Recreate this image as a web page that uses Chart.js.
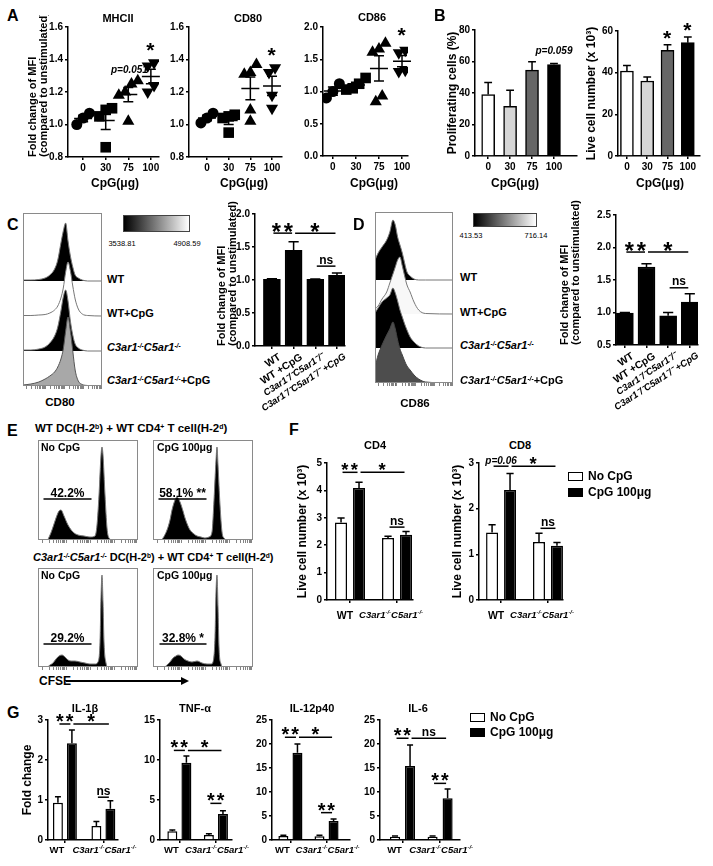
<!DOCTYPE html>
<html>
<head>
<meta charset="utf-8">
<title>CpG / C3aR-C5aR DC figure</title>
<script src="https://cdn.jsdelivr.net/npm/chart.js"></script>
<style>
  body { margin: 0; width: 713px; height: 866px; position: relative; overflow: hidden; background: #fff; }
  canvas { position: absolute; }
  .t { position: absolute; white-space: nowrap; line-height: 1; color: #000; }
  sup { font-size: 0.6em; position: relative; top: -0.45em; vertical-align: baseline; line-height: 0; }
</style>
</head>
<body>
<script>
// ---------- values ----------
const doses = ['0', '30', '75', '100'];

// A: fold change of MFI per mouse, one list per CpG dose
const mhciiFold = [[1.07, 1.04, 1.00], [1.10, 1.09, 1.05, 0.86], [1.27, 1.25, 1.20, 1.18, 1.02], [1.38, 1.36, 1.24, 1.20]];
const cd80Fold = [[1.07, 1.04, 1.01], [1.06, 1.05, 1.04, 0.95], [1.37, 1.32, 1.31, 1.09, 1.02], [1.35, 1.32, 1.18, 1.10]];
const cd86Fold = [[1.12, 1.00, 0.90], [1.21, 1.12, 1.05, 1.03], [1.75, 1.66, 1.61, 0.93, 0.84], [1.64, 1.60, 1.33, 1.31]];

// B
const prolifPct = [39.0, 31.6, 54.5, 58.1];
const prolifSem = [7.7, 10.2, 5.3, 0.7];
const liveCells = [40.8, 36.0, 50.7, 54.4];
const liveSem = [2.7, 1.9, 2.7, 2.7];

// C / D bar charts
const ko = 'C3ar1⁻/⁻C5ar1⁻/⁻';
const cdGroups = ['WT', 'WT +CpG', ko, ko + ' +CpG'];
const cd80Mfi = [1.01, 1.45, 1.01, 1.07];
const cd80Sem = [0.01, 0.13, 0.005, 0.035];
const cd86Mfi = [0.99, 1.70, 0.95, 1.16];
const cd86Sem = [0.01, 0.05, 0.05, 0.13];

// C / D histograms: channel (0-100) and counts
const cd80Chan = [0, 10, 20, 28, 34, 40, 44, 48, 51, 54, 57, 60, 63, 66, 70, 75, 82, 100];
const cd80WT = [1, 1, 1.5, 3, 6, 12, 21, 38, 50, 58, 40, 25, 14, 6, 3, 1, 0, 0];
const cd80WTCpG = [0.5, 0.5, 1, 1.5, 3, 6, 10, 18, 28, 44, 54, 45, 30, 17, 7, 2, 0.5, 0];
const cd80KO = [1, 1, 2, 4, 8, 15, 24, 40, 54, 61, 50, 30, 16, 7, 3, 1, 0, 0];
const cd80KOCpG = [1, 2, 4, 7, 10, 14, 19, 27, 37, 55, 69, 55, 35, 16, 5, 1.5, 0.5, 0];

const cd86Chan = [0, 4, 9, 15, 19, 23, 26, 29, 32, 35, 38, 41, 45, 50, 56, 65, 100];
const cd86WT = [20, 27, 33, 40, 48, 60, 55, 43, 35, 27, 17, 8, 4, 1, 0, 0, 0];
const cd86WTCpG = [5, 8, 15, 22, 31, 40, 47, 54, 57, 48, 38, 29, 22, 12, 4, 0.5, 0];
const cd86KO = [35, 40, 46, 50, 53, 60, 55, 47, 38, 31, 24, 18, 11, 6, 2, 0, 0];
const cd86KOCpG = [16, 28, 38, 48, 54, 61, 54, 43, 34, 28, 22, 17, 13, 8, 4, 1, 0];

// E: CFSE histograms
const cfseWtNoX = [0, 9, 12, 15, 18, 21, 23, 26, 30, 35, 40, 46, 52, 57, 59, 61, 63, 64, 65, 67, 69, 71, 75, 100];
const cfseWtNoN = [0, 0, 5, 13, 22, 29, 30, 24, 15, 8, 5, 4, 3, 4, 15, 45, 85, 93, 85, 45, 12, 2, 0, 0];
const cfseWtCpgX = [0, 8, 10, 14, 17, 19, 22, 24, 27, 30, 32, 35, 37, 41, 44, 48, 52, 56, 59, 61, 63, 64, 65, 67, 69, 71, 75, 100];
const cfseWtCpgN = [0, 0, 2, 10, 20, 30, 40, 43, 38, 29, 22, 14, 10, 6, 4, 3, 2, 3, 8, 40, 80, 93, 75, 35, 8, 2, 0, 0];
const cfseKoNoX = [0, 9, 12, 15, 18, 21, 24, 27, 30, 33, 37, 42, 47, 52, 57, 60, 62, 63, 64, 65, 66, 68, 70, 100];
const cfseKoNoN = [0, 0, 2, 4, 8, 11, 12, 10, 7, 6, 6, 5, 4, 3, 3, 5, 25, 70, 92, 65, 25, 4, 0, 0];
const cfseKoCpgX = [0, 11, 14, 17, 20, 23, 25, 28, 31, 35, 39, 44, 49, 54, 58, 60, 62, 63, 64, 65, 66, 68, 70, 100];
const cfseKoCpgN = [0, 0, 2, 5, 9, 11, 12, 11, 8, 6, 5, 6, 4, 3, 3, 5, 30, 75, 92, 60, 20, 3, 0, 0];

// F / G: [WT, KO] per condition
const strains = ['WT', ko];
const cd4No = [2.83, 2.26], cd4NoSem = [0.16, 0.07], cd4Cpg = [4.09, 2.38], cd4CpgSem = [0.21, 0.12];
const cd8No = [1.48, 1.27], cd8NoSem = [0.17, 0.19], cd8Cpg = [2.41, 1.19], cd8CpgSem = [0.36, 0.07];
const il1bNo = [0.93, 0.35], il1bNoSem = [0.15, 0.11], il1bCpg = [2.42, 0.78], il1bCpgSem = [0.33, 0.20];
const tnfNo = [1.08, 0.63], tnfNoSem = [0.17, 0.16], tnfCpg = [9.67, 3.25], tnfCpgSem = [0.83, 0.42];
const il12No = [0.83, 0.80], il12NoSem = [0.17, 0.17], il12Cpg = [18.2, 3.96], il12CpgSem = [1.8, 0.41];
const il6No = [0.69, 0.70], il6NoSem = [0.14, 0.14], il6Cpg = [15.4, 8.7], il6CpgSem = [4.4, 1.9];

// ---------- setup ----------
const FF = '"Liberation Sans", Arial, Helvetica, sans-serif';
Chart.defaults.font.family = FF;
Chart.defaults.color = '#000';
Chart.defaults.animation = false;
Chart.defaults.events = [];
Chart.defaults.plugins.legend.display = false;
Chart.defaults.plugins.tooltip.enabled = false;

function put(html, x, y, font, align) {
  const d = document.createElement('div');
  d.className = 't';
  d.innerHTML = html;
  const tx = align === 'c' ? '-50%' : align === 'r' ? '-100%' : '0';
  d.style.cssText = `left:${x}px;top:${y}px;transform:translate(${tx},-50%);font:${font} ${FF};`;
  document.body.appendChild(d);
}
function box(x, y, w, h, css) {
  const d = document.createElement('div');
  d.style.cssText = `position:absolute;left:${x}px;top:${y}px;width:${w}px;height:${h}px;box-sizing:border-box;${css}`;
  document.body.appendChild(d);
}

// canvas sized so that the plot area lands on `area` = [left, top, right, bottom]
function canvasFor(area, wY, hX, pad) {
  const p = Object.assign({l: 2, t: 12, r: 8, b: 2}, pad);
  const left = area[0] - wY - p.l, top = area[1] - p.t;
  const cv = document.createElement('canvas');
  cv.width = area[2] + p.r - left;
  cv.height = area[3] + hX + p.b - top;
  cv.style.left = left + 'px';
  cv.style.top = top + 'px';
  document.body.appendChild(cv);
  return {cv, padding: {left: p.l, top: p.t, right: p.r, bottom: p.b}};
}

function yAxis(o) {
  return {
    type: 'linear', position: 'left', min: o.min, max: o.max,
    afterFit: s => { s.width = o.w; s.paddingTop = 0; s.paddingBottom = 0; },
    ticks: {stepSize: o.step, padding: 2, color: '#000', font: {size: 10, weight: 'bold'},
      callback: v => o.dec ? Number(v).toFixed(o.dec) : String(v)},
    grid: {drawOnChartArea: false, tickLength: 3, color: '#000', lineWidth: 1.5},
    border: {color: '#000', width: 1.5},
    title: o.title ? {display: true, text: o.title, align: o.align || 'center', color: '#000', padding: 0,
      font: {size: o.ts || 12, weight: 'bold', lineHeight: o.tlh || 1.2}} : {display: false},
  };
}
function xAxis(o) {
  const isKo = i => !!(o.it && o.it(i));
  return {
    type: 'linear', position: 'bottom', min: o.min, max: o.max, offset: false,
    afterBuildTicks: s => { s.ticks = o.labels.map((_, i) => ({value: i})); },
    afterFit: s => { s.height = o.h; s.paddingLeft = 0; s.paddingRight = 0; },
    ticks: {display: !o.rich, autoSkip: false, padding: o.pad ?? 2, minRotation: o.rot || 0, maxRotation: o.rot || 0,
      labelOffset: o.lo || 0, color: '#000', callback: v => o.labels[v] ?? '',
      font: c => ({family: FF, size: isKo(c.index) ? (o.fsKo || o.fs || 10) : (o.fs || 10), weight: 'bold',
        style: isKo(c.index) ? 'italic' : 'normal'})},
    grid: {offset: false, drawOnChartArea: false, tickLength: 3, color: '#000', lineWidth: 1.5},
    border: {color: '#000', width: 1.5},
  };
}

// ---------- plugins ----------
const meanSem = {
  id: 'meanSem',
  afterDatasetsDraw(chart) {
    const {ctx, scales: {x, y}} = chart;
    ctx.save();
    ctx.strokeStyle = '#000';
    ctx.lineWidth = 1.5;
    chart.data.datasets.forEach(ds => {
      const n = ds.vals.length;
      const m = ds.vals.reduce((a, b) => a + b, 0) / n;
      const se = Math.sqrt(ds.vals.reduce((a, b) => a + (b - m) ** 2, 0) / (n - 1)) / Math.sqrt(n);
      const cx = x.getPixelForValue(ds.g);
      const ym = y.getPixelForValue(m), yh = y.getPixelForValue(m + se), yl = y.getPixelForValue(m - se);
      ctx.beginPath();
      ctx.moveTo(cx - 9, ym); ctx.lineTo(cx + 9, ym);
      ctx.moveTo(cx, yh); ctx.lineTo(cx, yl);
      ctx.moveTo(cx - 5, yh); ctx.lineTo(cx + 5, yh);
      ctx.moveTo(cx - 5, yl); ctx.lineTo(cx + 5, yl);
      ctx.stroke();
    });
    ctx.restore();
  },
};

const errBars = {
  id: 'errBars',
  afterDatasetsDraw(chart) {
    const {ctx} = chart;
    const y = chart.scales.y;
    ctx.save();
    ctx.strokeStyle = '#000';
    ctx.lineWidth = 1.5;
    chart.data.datasets.forEach((ds, di) => {
      chart.getDatasetMeta(di).data.forEach((bar, i) => {
        const top = y.getPixelForValue(ds.data[i].y + ds.errors[i]);
        const hw = bar.width * 0.3;
        ctx.beginPath();
        ctx.moveTo(bar.x, bar.y); ctx.lineTo(bar.x, top);
        ctx.moveTo(bar.x - hw, top); ctx.lineTo(bar.x + hw, top);
        ctx.stroke();
      });
    });
    ctx.restore();
  },
};

// asterisks sized by their real glyph height, centred on (x, cy)
function drawStars(ctx, n, x, cy, gh) {
  ctx.font = `bold 100px ${FF}`;
  const m0 = ctx.measureText('*');
  const fs = 100 * gh / (m0.actualBoundingBoxAscent + m0.actualBoundingBoxDescent);
  ctx.font = `bold ${fs}px ${FF}`;
  ctx.textAlign = 'left';
  ctx.textBaseline = 'alphabetic';
  const m = ctx.measureText('*');
  const w = m.actualBoundingBoxLeft + m.actualBoundingBoxRight;
  const cOff = (m.actualBoundingBoxRight - m.actualBoundingBoxLeft) / 2;
  const base = cy + (m.actualBoundingBoxAscent - m.actualBoundingBoxDescent) / 2;
  for (let i = 0; i < n; i++) ctx.fillText('*', x + (i - (n - 1) / 2) * w * 1.2 - cOff, base);
  ctx.textAlign = 'center';
}
function drawLabel(ctx, t, x, y, o, above) {
  if (/^\*+$/.test(t)) {
    drawStars(ctx, t.length, x, above ? y - 6 : y, o.gh || 8);
  } else {
    const fs = o.fs || 11;
    ctx.font = `${o.style || 'normal'} bold ${fs}px ${FF}`;
    ctx.textBaseline = above ? 'alphabetic' : 'middle';
    ctx.fillText(t, x, above ? y - 2.5 : y);
  }
}
// significance brackets, gates and free labels, placed in data units
const marks = {
  id: 'marks',
  afterDatasetsDraw(chart, args, opts) {
    const {ctx} = chart;
    const xs = chart.scales.x, ys = chart.scales.y;
    const px = r => Array.isArray(r) ? chart.getDatasetMeta(r[1]).data[r[0]].x : xs.getPixelForValue(r);
    ctx.save();
    ctx.strokeStyle = '#000';
    ctx.fillStyle = '#000';
    ctx.lineWidth = 1.5;
    ctx.textAlign = 'center';
    (opts.lines || []).forEach(l => {
      const x1 = px(l.a) + 1.5, x2 = px(l.b) - 1.5, yy = ys.getPixelForValue(l.y);
      ctx.beginPath(); ctx.moveTo(x1, yy); ctx.lineTo(x2, yy); ctx.stroke();
      drawLabel(ctx, l.t, (x1 + x2) / 2, yy, Object.assign({gh: opts.gh}, l), true);
    });
    (opts.texts || []).forEach(t => drawLabel(ctx, t.t, px(t.x), ys.getPixelForValue(t.y), Object.assign({gh: opts.gh}, t), false));
    ctx.restore();
  },
};

// x tick labels with real superscripts ("-/-") for the knockout strain
function richSegs(label, fs, italic) {
  const f = (size) => `${italic ? 'italic ' : ''}bold ${size}px ${FF}`;
  const segs = [];
  label.split('⁻/⁻').forEach((part, k, arr) => {
    if (part) segs.push({t: part, font: f(fs), dy: 0});
    if (k < arr.length - 1) segs.push({t: '-/-', font: f(fs * 0.62), dy: -fs * 0.42});
  });
  return segs;
}
const richTicks = {
  id: 'richTicks',
  afterDraw(chart, args, opts) {
    if (!opts.labels) return;
    const {ctx} = chart;
    const xs = chart.scales.x;
    ctx.save();
    ctx.fillStyle = '#000';
    ctx.textAlign = 'left';
    ctx.textBaseline = 'alphabetic';
    opts.labels.forEach((label, i) => {
      const fs = opts.fs[i];
      const segs = richSegs(label, fs, opts.italic[i]);
      const widths = segs.map(s => { ctx.font = s.font; return ctx.measureText(s.t).width; });
      let x = xs.getPixelForValue(i) + opts.dx[i] - widths.reduce((a, b) => a + b, 0) / 2;
      const base = xs.top + opts.dy + 0.36 * fs;
      segs.forEach((s, k) => { ctx.font = s.font; ctx.fillText(s.t, x, base + s.dy); x += widths[k]; });
    });
    ctx.restore();
  },
};

const frame = {
  id: 'frame',
  afterDatasetsDraw(chart) {
    const {ctx, chartArea: a} = chart;
    ctx.save();
    ctx.strokeStyle = '#8a8a8a';
    ctx.lineWidth = 1;
    ctx.strokeRect(a.left + 0.5, a.top + 0.5, a.width - 1, a.height - 1);
    ctx.restore();
  },
};

// ---------- builders ----------
function spread(vals, thr) {
  const order = vals.map((v, i) => i).sort((a, b) => vals[a] - vals[b]);
  const off = vals.map(() => 0);
  let run = [order[0]];
  const flush = () => run.forEach((k, j) => { off[k] = (j - (run.length - 1) / 2) * 0.28; });
  for (let j = 1; j < order.length; j++) {
    if (vals[order[j]] - vals[order[j - 1]] < thr) run.push(order[j]);
    else { flush(); run = [order[j]]; }
  }
  flush();
  return off;
}

function dotChart(o) {
  const {cv, padding} = canvasFor(o.area, o.y.w, o.x.h, o.pad || {});
  const shapes = [['circle', 5.5, 0], ['rect', 7.5, 0], ['triangle', 7, 0], ['triangle', 7, 180]];
  new Chart(cv, {
    type: 'scatter',
    data: {datasets: o.groups.map((vals, g) => {
      const off = spread(vals, o.thr);
      return {
        vals, g,
        data: vals.map((v, k) => ({x: g + off[k], y: v})),
        pointStyle: shapes[g][0], pointRadius: shapes[g][1], pointRotation: shapes[g][2],
        backgroundColor: '#000', borderColor: '#000', borderWidth: 0,
      };
    })},
    options: {responsive: false, layout: {padding}, scales: {x: xAxis(o.x), y: yAxis(o.y)}, plugins: {marks: o.marks || {}}},
    plugins: [meanSem, marks],
  });
}

function barChart(o) {
  const {cv, padding} = canvasFor(o.area, o.y.w, o.x.h, o.pad || {});
  new Chart(cv, {
    type: 'bar',
    data: {datasets: o.sets.map(s => ({
      data: s.vals.map((v, i) => ({x: i, y: v})),
      errors: s.errs,
      backgroundColor: s.fill,
      borderColor: '#000', borderWidth: 1.5,
      barThickness: o.thick,
      categoryPercentage: o.cp || 0.8, barPercentage: o.bp || 0.9,
    }))},
    options: {responsive: false, layout: {padding}, scales: {x: xAxis(o.x), y: yAxis(o.y)},
      plugins: {marks: o.marks || {}, richTicks: o.x.rich ? Object.assign({labels: o.x.labels}, o.x.rich) : {}}},
    plugins: [errBars, marks, richTicks],
  });
}

const flowTicks = [];
[4, 28, 52, 76].forEach(d => { for (let k = 1; k <= 9; k++) flowTicks.push(d + 24 * Math.log10(k)); });

function flowChart(area, sets, marksOpt) {
  const {cv, padding} = canvasFor(area, 0, 4, {l: 1, t: 1, r: 1, b: 1});
  new Chart(cv, {
    type: 'line',
    data: {datasets: sets.map(s => ({
      data: s.x.map((x, i) => ({x, y: s.base + s.n[i]})),
      fill: {value: s.base},
      backgroundColor: s.color, borderColor: s.line || '#777', borderWidth: 1,
      pointRadius: 0, cubicInterpolationMode: 'monotone',
    }))},
    options: {
      responsive: false, layout: {padding},
      scales: {
        x: {type: 'linear', min: 0, max: 100,
          afterBuildTicks: s => { s.ticks = flowTicks.map(v => ({value: v})); },
          afterFit: s => { s.height = 4; s.paddingLeft = 0; s.paddingRight = 0; },
          ticks: {display: false}, grid: {drawOnChartArea: false, tickLength: 3, color: '#666', lineWidth: 0.8},
          border: {display: false}},
        y: {display: false, min: 0, max: area[3] - area[1]},
      },
      plugins: {marks: marksOpt || {}},
    },
    plugins: [frame, marks],
  });
}

// ---------- panel A ----------
const foldTitle = ['Fold change of MFI', '(compared to unstimulated)'];
dotChart({area: [68, 27, 159, 157], groups: mhciiFold, thr: 0.06, pad: {l: 0},
  y: {min: 0.8, max: 1.6, step: 0.2, dec: 1, w: 41, title: foldTitle, align: 'start', ts: 11, tlh: 1.05},
  x: {min: -0.67, max: 3.36, labels: doses, h: 33},
  marks: {gh: 8, texts: [{x: 3, y: 1.477, t: '*'}, {x: 2.05, y: 1.335, t: 'p=0.051', style: 'italic', fs: 10}]}});
dotChart({area: [189, 27, 282, 157], groups: cd80Fold, thr: 0.06,
  y: {min: 0.8, max: 1.6, step: 0.2, dec: 1, w: 26},
  x: {min: -0.83, max: 3.46, labels: doses, h: 33},
  marks: {gh: 8, texts: [{x: 3, y: 1.446, t: '*'}]}});
dotChart({area: [323, 27, 408, 156], groups: cd86Fold, thr: 0.15,
  y: {min: 0, max: 2, step: 0.5, dec: 1, w: 26},
  x: {min: -0.43, max: 3.26, labels: doses, h: 34},
  marks: {gh: 8, texts: [{x: 3, y: 1.92, t: '*'}]}});

// ---------- panel B ----------
const doseFill = ['#ffffff', '#d6d6d6', '#666666', '#000000'];
barChart({area: [475, 30, 577, 156], thick: 13, pad: {l: 0},
  sets: [{vals: prolifPct, errs: prolifSem, fill: doseFill}],
  y: {min: 0, max: 80, step: 20, w: 30, title: 'Proliferating cells (%)'},
  x: {min: -0.6, max: 4.05, labels: doses, h: 34},
  marks: {texts: [{x: [3, 0], y: 66.7, t: 'p=0.059', style: 'italic', fs: 10}]}});
barChart({area: [618, 31, 700, 156], thick: 13, pad: {l: 0},
  sets: [{vals: liveCells, errs: liveSem, fill: doseFill}],
  y: {min: 0, max: 60, step: 20, w: 34, title: 'Live cell number (x 10³)'},
  x: {min: -0.44, max: 3.6, labels: doses, h: 34},
  marks: {gh: 8, texts: [{x: [2, 0], y: 58.1, t: '*'}, {x: [3, 0], y: 61.9, t: '*'}]}});
[115, 244, 374, 515, 660].forEach(x => put('CpG(μg)', x, 183, 'bold 12px', 'c'));

// ---------- panels C / D ----------
const koItalic = i => i >= 2;
barChart({area: [255, 214, 345, 346], thick: 17, pad: {l: 0, t: 18, r: 12, b: 0},
  sets: [{vals: cd80Mfi, errs: cd80Sem, fill: '#000'}],
  y: {min: 0, max: 2, step: 0.5, dec: 1, w: 39, title: foldTitle, align: 'start', ts: 11, tlh: 1.05},
  x: {min: -0.78, max: 3.37, labels: cdGroups, h: 75, rot: 33, lo: 8, it: koItalic, fs: 10.5, fsKo: 9.5},
  marks: {gh: 9, lines: [
    {a: [0, 0], b: [1, 0], y: 1.71, t: '**'},
    {a: [1, 0], b: [3, 0], y: 1.71, t: '*'},
    {a: [2, 0], b: [3, 0], y: 1.21, t: 'ns', fs: 12}]}});
barChart({area: [616, 215, 698, 345], thick: 17, pad: {l: 0, t: 18, r: 12, b: 0},
  sets: [{vals: cd86Mfi, errs: cd86Sem, fill: '#000'}],
  y: {min: 0.5, max: 2.5, step: 0.5, dec: 1, w: 57, title: foldTitle, align: 'start', ts: 11, tlh: 1.05},
  x: {min: -0.41, max: 3.38, labels: cdGroups, h: 75, rot: 33, lo: 8, it: koItalic, fs: 10.5, fsKo: 9.5},
  marks: {gh: 9, lines: [
    {a: [0, 0], b: [1, 0], y: 1.93, t: '**'},
    {a: [1, 0], b: [3, 0], y: 1.93, t: '*'},
    {a: [2, 0], b: [3, 0], y: 1.38, t: 'ns', fs: 12}]}});

flowChart([23, 213, 102, 386], [
  {x: cd80Chan, n: cd80KOCpG, base: 0, color: '#a8a8a8', line: '#555'},
  {x: cd80Chan, n: cd80KO, base: 35, color: '#000'},
  {x: cd80Chan, n: cd80WTCpG, base: 70, color: '#fff'},
  {x: cd80Chan, n: cd80WT, base: 105, color: '#000'}]);
flowChart([375, 212, 453, 383], [
  {x: cd86Chan, n: cd86KOCpG, base: 0, color: '#4d4d4d', line: '#444'},
  {x: cd86Chan, n: cd86KO, base: 35, color: '#000'},
  {x: cd86Chan, n: cd86WTCpG, base: 69, color: '#f8f8f8'},
  {x: cd86Chan, n: cd86WT, base: 103, color: '#000'}]);

// ---------- panel E ----------
flowChart([38, 440, 138, 540], [{x: cfseWtNoX, n: cfseWtNoN, base: 0, color: '#000'}],
  {lines: [{a: 4, b: 55, y: 41, t: '42.2%', fs: 12}]});
flowChart([153, 440, 253, 540], [{x: cfseWtCpgX, n: cfseWtCpgN, base: 0, color: '#000'}],
  {lines: [{a: 4, b: 55, y: 41, t: '58.1% **', fs: 12}]});
flowChart([38, 568, 138, 667], [{x: cfseKoNoX, n: cfseKoNoN, base: 0, color: '#000'}],
  {lines: [{a: 4, b: 55, y: 23, t: '29.2%', fs: 12}]});
flowChart([153, 568, 253, 667], [{x: cfseKoCpgX, n: cfseKoCpgN, base: 0, color: '#000'}],
  {lines: [{a: 5, b: 55, y: 23, t: '32.8% *', fs: 12}]});

// ---------- panel F ----------
const pairFill = ['#ffffff', '#000000'];
const strainItalic = [false, true];
const fLabels = {fs: [10.5, 9.5], italic: strainItalic, dx: [-5, -6], dy: 15};
const gLabels = {fs: [9.5, 9.5], italic: strainItalic, dx: [-8, 1], dy: 10};
barChart({area: [327, 463, 413, 600], cp: 0.766, bp: 0.667, pad: {l: 0, r: 30},
  sets: [{vals: cd4No, errs: cd4NoSem, fill: pairFill[0]}, {vals: cd4Cpg, errs: cd4CpgSem, fill: pairFill[1]}],
  y: {min: 0, max: 5, step: 1, w: 32, title: 'Live cell number (x 10³)'},
  x: {min: -0.49, max: 1.34, labels: strains, h: 24, rich: fLabels},
  marks: {gh: 7, lines: [
    {a: [0, 0], b: [0, 1], y: 4.66, t: '**'},
    {a: [0, 1], b: [1, 1], y: 4.66, t: '*'},
    {a: [1, 0], b: [1, 1], y: 2.66, t: 'ns', fs: 12}]}});
barChart({area: [479, 463, 563, 600], cp: 0.766, bp: 0.667, pad: {l: 0, r: 30},
  sets: [{vals: cd8No, errs: cd8NoSem, fill: pairFill[0]}, {vals: cd8Cpg, errs: cd8CpgSem, fill: pairFill[1]}],
  y: {min: 0, max: 3, step: 1, w: 29, title: 'Live cell number (x 10³)'},
  x: {min: -0.47, max: 1.32, labels: strains, h: 24, rich: fLabels},
  marks: {gh: 7, lines: [
    {a: [0, 0], b: [0, 1], y: 2.93, t: 'p=0.06', style: 'italic', fs: 10},
    {a: [0, 1], b: [1, 1], y: 2.93, t: '*'},
    {a: [1, 0], b: [1, 1], y: 1.57, t: 'ns', fs: 12}]}});

// ---------- panel G ----------
function cytokine(area, no, noSem, cpg, cpgSem, y, xr, cp, bp, lines) {
  barChart({area, cp, bp, pad: {l: y.title ? 0 : 2, r: 30},
    sets: [{vals: no, errs: noSem, fill: pairFill[0]}, {vals: cpg, errs: cpgSem, fill: pairFill[1]}],
    y, x: {min: xr[0], max: xr[1], labels: strains, h: 24, rich: gLabels},
    marks: {gh: 7.5, lines}});
}
cytokine([48, 720, 118, 840], il1bNo, il1bNoSem, il1bCpg, il1bCpgSem,
  {min: 0, max: 3, step: 1, w: 28, title: 'Fold change'}, [-0.44, 1.38], 0.727, 0.71, [
    {a: [0, 0], b: [0, 1], y: 2.9, t: '**'}, {a: [0, 1], b: [1, 1], y: 2.9, t: '*'},
    {a: [1, 0], b: [1, 1], y: 1.07, t: 'ns', fs: 12}]);
cytokine([160, 720, 232, 840], tnfNo, tnfNoSem, tnfCpg, tnfCpgSem,
  {min: 0, max: 15, step: 5, w: 26}, [-0.53, 1.44], 0.77, 0.71, [
    {a: [0, 0], b: [0, 1], y: 11.2, t: '**'}, {a: [0, 1], b: [1, 1], y: 11.2, t: '*'},
    {a: [1, 0], b: [1, 1], y: 4.58, t: '**'}]);
cytokine([272, 720, 350, 840], il12No, il12NoSem, il12Cpg, il12CpgSem,
  {min: 0, max: 25, step: 5, w: 26}, [-0.51, 1.65], 0.78, 0.71, [
    {a: [0, 0], b: [0, 1], y: 21.4, t: '**'}, {a: [0, 1], b: [1, 1], y: 21.4, t: '*'},
    {a: [1, 0], b: [1, 1], y: 5.7, t: '**'}]);
cytokine([380, 720, 460, 840], il6No, il6NoSem, il6Cpg, il6CpgSem,
  {min: 0, max: 25, step: 5, w: 26}, [-0.6, 1.53], 0.8, 0.67, [
    {a: [0, 0], b: [0, 1], y: 21.2, t: '**'}, {a: [0, 1], b: [1, 1], y: 21.2, t: 'ns', fs: 12},
    {a: [1, 0], b: [1, 1], y: 11.8, t: '**'}]);

// ---------- text, legends, decorations ----------
[['A', 7, 16], ['B', 434, 16], ['C', 7, 225], ['D', 353, 225], ['E', 7, 431], ['F', 289, 430], ['G', 7, 713]]
  .forEach(([l, x, y]) => put(l, x, y, 'bold 16px', 'l'));
put('MHCII', 118, 18, 'bold 11px', 'c');
put('CD80', 248, 18, 'bold 11px', 'c');
put('CD86', 372, 17, 'bold 11px', 'c');
put('CD4', 375, 445, 'bold 11px', 'c');
put('CD8', 520, 445, 'bold 11px', 'c');
put('IL-1β', 85, 708, 'bold 11px', 'c');
put('TNF-α', 195, 708, 'bold 11px', 'c');
put('IL-12p40', 312, 708, 'bold 11px', 'c');
put('IL-6', 418, 708, 'bold 11px', 'c');

const koHtml = '<i>C3ar1<sup>-/-</sup>C5ar1<sup>-/-</sup></i>';
const flowRows = ['WT', 'WT+CpG', koHtml, koHtml + '+CpG'];
[279, 313, 347, 380].forEach((y, i) => put(flowRows[i], 107, y, 'bold 11px', 'l'));
[277, 312, 345, 380].forEach((y, i) => put(flowRows[i], 460, y, 'bold 11px', 'l'));
put('CD80', 60, 402, 'bold 11.5px', 'c');
put('CD86', 415, 403, 'bold 11.5px', 'c');

box(123, 215, 67, 17, 'border:1px solid #444;background:linear-gradient(to right,#000,#fff)');
put('3538.81', 122, 243, '7.5px', 'c');
put('4908.59', 187, 243, '7.5px', 'c');
box(473, 213, 64, 14, 'border:1px solid #444;background:linear-gradient(to right,#000,#fff)');
put('413.53', 471, 235, '7.5px', 'c');
put('716.14', 536, 235, '7.5px', 'c');

put('WT DC(H-2<sup>b</sup>) + WT CD4<sup>+</sup> T cell(H-2<sup>d</sup>)', 35, 428, 'bold 11.5px', 'l');
put(koHtml + ' DC(H-2<sup>b</sup>) + WT CD4<sup>+</sup> T cell(H-2<sup>d</sup>)', 33, 557, 'bold 11px', 'l');
put('No CpG', 41, 447, 'bold 10.5px', 'l');
put('CpG 100μg', 157, 447, 'bold 10.5px', 'l');
put('No CpG', 41, 575, 'bold 10.5px', 'l');
put('CpG 100μg', 157, 575, 'bold 10.5px', 'l');
put('CFSE', 39, 681, 'bold 12px', 'l');
box(66, 680, 116, 1.5, 'background:#000');
box(181, 677, 0, 0, 'border-left:8px solid #000;border-top:4px solid transparent;border-bottom:4px solid transparent');

function legend(x, y1, y2) {
  box(x, y1 - 4, 15, 8.5, 'border:1.5px solid #000;background:#fff');
  box(x, y2 - 4, 15, 8.5, 'border:1.5px solid #000;background:#000');
  put('No CpG', x + 20, y1, 'bold 12px', 'l');
  put('CpG 100μg', x + 20, y2, 'bold 12px', 'l');
}
legend(568, 476, 492);
legend(470, 717, 732);
</script>
</body>
</html>
